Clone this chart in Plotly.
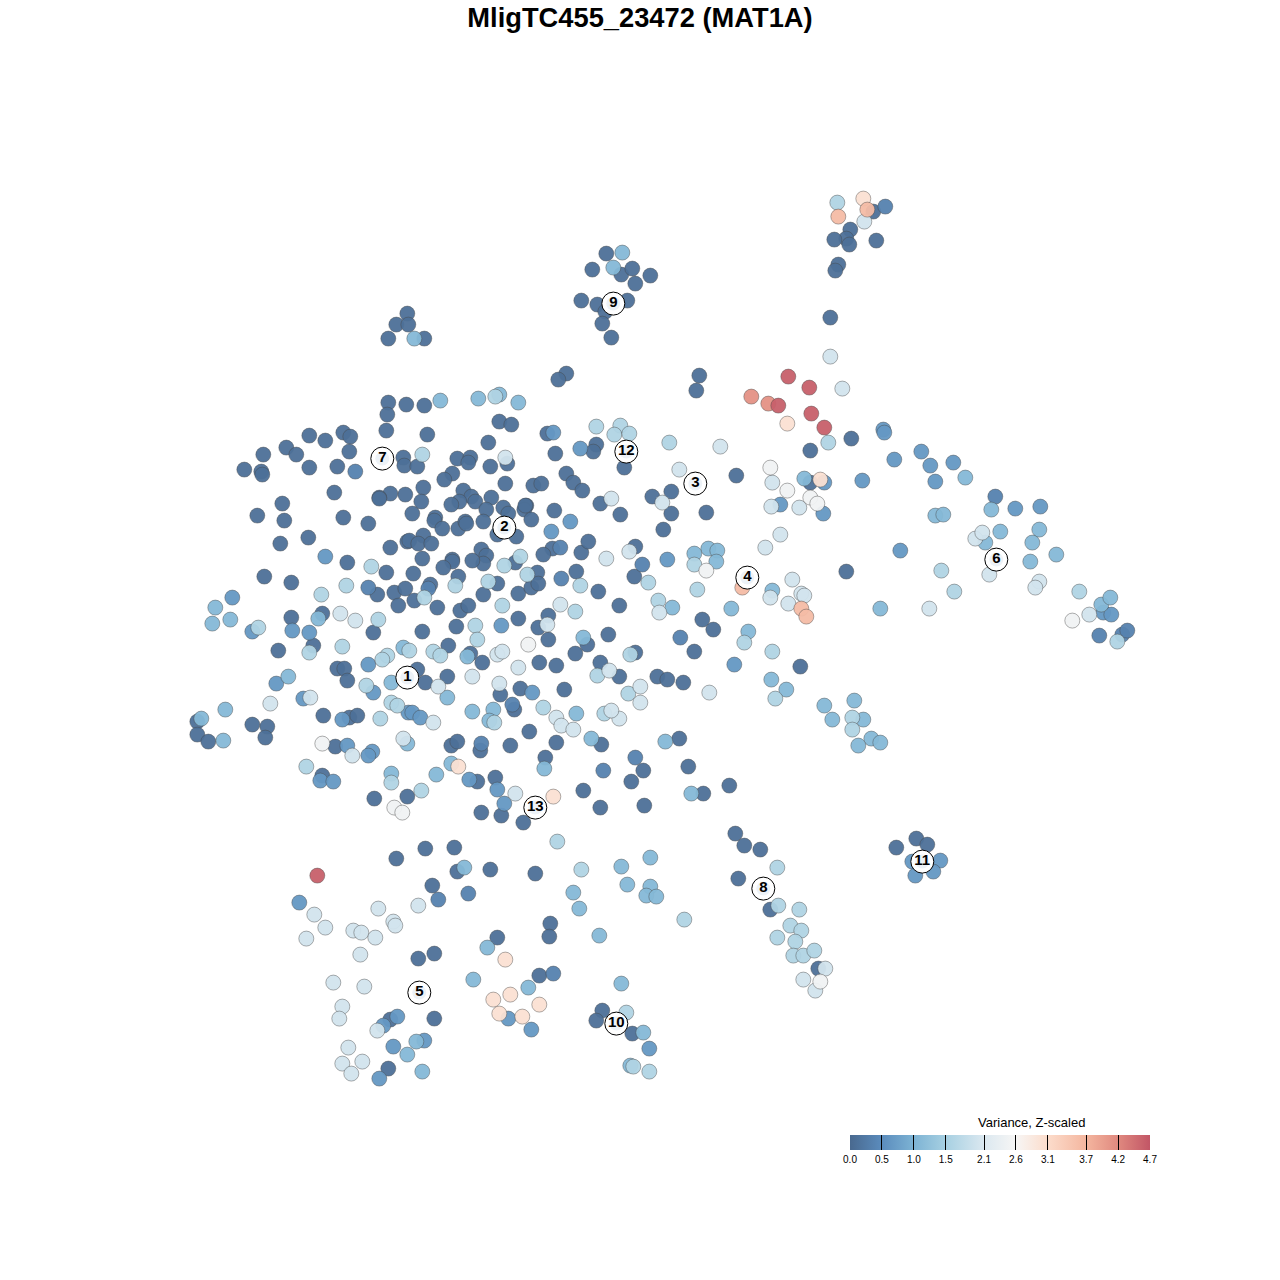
import plotly.graph_objects as go

title_text = "MligTC455_23472 (MAT1A)"
legend_title = "Variance, Z-scaled"
tick_values = [0.0, 0.5, 1.0, 1.5, 2.1, 2.6, 3.1, 3.7, 4.2, 4.7]
tick_labels = ["0.0", "0.5", "1.0", "1.5", "2.1", "2.6", "3.1", "3.7", "4.2", "4.7"]
scale_stops = [
    (0.0, "#49698f"), (0.5, "#5b8cbd"), (1.0, "#7db3d4"), (1.5, "#a7d0e2"),
    (2.1, "#dbe8f0"), (2.6, "#f7f6f5"), (3.1, "#fcdccb"), (3.7, "#f4b69f"),
    (4.2, "#e0897f"), (4.7, "#c25666"),
]
cluster_ids = ["1", "2", "3", "4", "5", "6", "7", "8", "9", "10", "11", "12", "13"]
cluster_x = [407, 504, 695, 747, 419, 996, 382, 763, 613, 616, 922, 626, 535]
cluster_y = [677, 527, 483, 577, 992, 559, 458, 888, 303, 1023, 861, 451, 807]

tier_values = [0.1, 0.35, 0.65, 1.1, 1.6, 2.0, 2.5, 3.0, 3.6, 4.1, 4.6]

tier_0 = [
    (873,211),(850,229),(846,238),(834,239),(849,244),(876,240),(838,264),(835,270),(830,317),
    (606,253),(592,269),(621,274),(632,268),(650,275),(635,283),(581,300),(597,304),(627,300),(605,311),(602,323),(611,337),
    (407,313),(396,324),(408,324),(388,338),(424,338),(566,373),(558,379),(699,375),(696,390),
    (388,402),(406,404),(424,405),(387,414),(386,430),(309,435),(343,432),(350,436),(325,440),(286,447),(296,454),(349,451),(263,454),
    (309,467),(337,466),(244,469),(261,471),(262,474),(403,457),(404,465),(417,466),(427,434),(488,442),(334,492),(390,493),(379,497),(379,498),(405,494),
    (282,503),(257,515),(284,520),(343,517),(368,523),(412,513),(308,537),(280,543),(390,547),(407,541),(347,562),(386,572),(264,576),(291,582),(377,594),(394,592),(405,588),(413,573),
    (457,458),(470,457),(468,462),(490,466),(507,463),(452,473),(444,479),(505,483),(533,485),(541,483),(423,487),(421,501),(463,490),(471,496),(459,501),(451,504),(475,501),(491,497),
    (503,507),(508,513),(486,509),(526,505),(524,509),(483,521),(531,519),(435,517),(434,520),(442,528),(458,528),(465,521),(466,523),(497,534),(516,536),(423,535),(409,540),(418,543),(431,543),
    (422,558),(481,549),(486,555),(483,563),(472,560),(452,559),(452,561),(443,567),(458,576),(430,584),(398,605),(414,600),(437,607),(460,610),(468,605),(497,583),(483,594),(518,593),(531,587),(537,572),(538,583),(515,562),(576,571),
    (552,548),(543,554),(581,552),(588,541),(598,591),(518,618),(548,615),(538,627),(548,639),(619,605),(634,576),(635,546),
    (499,421),(511,424),(547,433),(596,444),(593,451),(555,453),(624,467),(566,473),(573,482),(582,490),(525,505),(554,510),(600,503),(652,496),(671,491),(671,513),(706,512),(620,514),(736,475),(663,529),
    (702,619),(713,629),(694,651),(608,634),(587,644),(575,653),(635,652),(800,666),(657,676),(667,679),(683,682),(846,571),(810,450),(851,438),(810,482),
    (291,617),(322,613),(373,632),(313,645),(278,650),(337,668),(344,668),(347,680),(197,721),(197,734),(208,741),(252,724),(267,726),(265,737),(323,715),(349,717),(357,715),(335,746),(322,775),(374,798),
    (456,626),(422,631),(448,645),(470,653),(482,662),(539,662),(556,665),(600,662),(417,669),(447,676),(619,676),(425,682),(520,688),(500,694),(564,689),(514,709),(529,731),(601,744),(451,745),(457,741),(480,750),(510,745),(556,742),(545,757),
    (477,781),(495,777),(407,796),(481,812),(501,815),(523,822),(583,790),(631,781),(643,770),(600,807),(644,805),(688,766),(679,738),(729,785),(703,793),
    (916,838),(927,844),(896,847),(922,858),(735,833),(744,845),(760,849),(738,878),(770,909),(818,968),
    (396,858),(425,848),(454,847),(457,871),(490,869),(535,873),(432,885),(550,923),(549,936),(497,937),(418,958),(434,953),(539,975),(434,1018),(390,1019),(602,1010),(596,1020),(632,1033),(388,1068),
]
tier_1 = [
    (885,206),(355,471),(368,587),(428,588),(561,578),(560,547),(642,564),(680,637),(995,496),(1099,635),(553,973),(438,899),(468,893),(481,743),(512,704),(1122,634),(1127,630),
    (635,757),(603,770),
]
tier_2 = [
    (325,556),(232,597),(292,630),(309,632),(252,631),(276,683),(368,664),(373,692),(303,698),(342,719),(408,712),(347,745),(372,751),(368,755),(320,780),(333,781),
    (551,531),(570,521),(580,448),(553,432),(501,625),(532,692),(412,712),(420,717),(469,779),(862,480),(824,482),(823,513),(780,504),(734,664),(883,429),(884,432),
    (894,459),(921,451),(930,465),(953,462),(935,481),(1015,508),(1040,506),(900,550),(1103,612),(1111,614),(912,861),(940,860),(915,875),(933,871),
    (299,902),(397,1016),(383,1025),(508,1018),(531,1029),(649,1048),(393,1046),(424,1040),(379,1078),(667,559),(504,803),(497,789),
]
tier_3 = [
    (622,252),(613,267),(414,338),(440,400),(478,398),(499,394),(518,402),(215,607),(212,623),(230,619),(318,618),(403,647),(467,656),(288,676),(391,682),(225,709),(201,718),(223,740),(407,743),(391,773),
    (447,697),(493,709),(472,711),(489,720),(576,713),(591,738),(665,741),(451,763),(436,774),(544,768),(691,793),
    (583,637),(672,607),(731,608),(772,590),(748,631),(771,679),(786,689),(804,478),(708,548),(717,550),(716,561),(694,553),
    (832,719),(854,700),(863,719),(871,738),(880,742),(858,745),(824,705),(965,477),(991,509),(935,515),(943,514),(1000,531),(1039,529),(1032,542),(985,542),(1030,561),(1056,554),(880,608),(1101,604),(1110,597),
    (464,867),(621,866),(650,857),(573,892),(627,884),(650,886),(646,895),(656,896),(579,908),(599,935),(487,947),(473,979),(528,987),(621,983),(643,1032),(416,1041),(407,1054),(422,1071),(630,1065),
]
tier_4 = [
    (422,454),(371,566),(321,594),(346,585),(455,585),(488,581),(504,565),(520,556),(527,574),(580,585),(648,582),(424,597),(502,605),(575,611),(378,619),(495,396),
    (309,652),(342,646),(409,650),(387,655),(382,659),(366,685),(391,702),(397,705),(380,718),(306,766),(391,782),(421,790),
    (475,625),(477,639),(433,651),(440,655),(630,654),(597,675),(628,693),(543,707),(494,722),(604,713),
    (669,442),(596,426),(620,425),(614,434),(629,433),(694,564),(697,589),(658,600),(744,642),(772,651),(828,442),(775,698),(852,717),(852,729),
    (941,570),(954,591),(1079,591),(1117,641),(777,867),(778,905),(799,909),(790,925),(777,937),(801,930),(795,941),(793,955),(803,955),(814,950),
    (557,841),(581,869),(684,919),(626,1012),(633,1066),(649,1071),(837,202),(258,627),
]
tier_5 = [
    (864,221),(830,356),(842,388),(611,498),(679,469),(720,446),(662,502),(629,551),(606,558),(560,604),(547,624),(659,612),(765,547),(780,534),(772,482),(771,506),(799,507),(792,579),(770,597),(801,593),(804,595),(788,603),
    (340,613),(355,620),(270,703),(310,697),(352,755),(403,738),(518,667),(472,676),(438,686),(499,683),(497,654),(502,651),(505,457),(433,722),(556,717),(561,725),(573,729),(619,718),(640,702),(640,686),(609,670),(611,710),(515,793),(709,692),
    (975,538),(982,532),(989,574),(1039,581),(1035,587),(929,608),(1089,614),(825,968),(803,979),(815,990),
    (314,914),(325,927),(306,938),(353,930),(361,932),(375,937),(378,908),(393,921),(395,925),(418,905),(360,954),(333,982),(364,986),(342,1006),(339,1018),(377,1030),(348,1047),(342,1063),(362,1061),(351,1073),
]
tier_6 = [
    (706,570),(770,467),(787,490),(322,743),(1072,620),(528,644),(810,497),(817,503),(820,981),(394,807),(402,812),
]
tier_7 = [
    (787,423),(820,479),(553,796),(458,766),(863,198),(505,959),(510,994),(493,999),(539,1004),(499,1013),(522,1016),
]
tier_8 = [
    (867,209),(742,587),(801,608),(806,616),(838,216),
]
tier_9 = [
    (751,396),(768,403),
]
tier_10 = [
    (778,405),(788,376),(809,387),(811,413),(824,427),(317,875),
]
all_tiers = [tier_0, tier_1, tier_2, tier_3, tier_4, tier_5, tier_6, tier_7, tier_8, tier_9, tier_10]

xs, ys, vs = [], [], []
for tier, value in zip(all_tiers, tier_values):
    for px, py in tier:
        xs.append(px)
        ys.append(py)
        vs.append(value)

colorscale = [[v / 4.7, c] for v, c in scale_stops]

fig = go.Figure()
fig.add_trace(go.Scatter(
    x=xs, y=ys, mode="markers", hoverinfo="skip", showlegend=False,
    marker=dict(
        size=15, color=vs, cmin=0, cmax=4.7, colorscale=colorscale, opacity=0.95,
        line=dict(width=1, color="rgba(70,70,70,0.45)"),
        colorbar=dict(
            orientation="h", lenmode="pixels", len=300, thicknessmode="pixels", thickness=15,
            x=850 / 1280, xanchor="left", xpad=0, ypad=0,
            y=1 - 1179.5 / 1280, yanchor="bottom",
            tickmode="array", tickvals=tick_values, ticktext=tick_labels,
            ticks="inside", ticklen=15, tickwidth=1, tickcolor="black",
            tickfont=dict(size=10, color="black", family="Liberation Sans"),
            outlinewidth=0, borderwidth=0,
        ),
    ),
))
fig.add_trace(go.Scatter(
    x=cluster_x, y=cluster_y, mode="markers", hoverinfo="skip", showlegend=False,
    marker=dict(size=23, color="white", line=dict(width=1, color="black")),
))
fig.add_trace(go.Scatter(
    x=cluster_x, y=cluster_y, mode="markers+text", text=cluster_ids, hoverinfo="skip", showlegend=False,
    textposition="middle center",
    textfont=dict(size=15, color="black", family="Liberation Sans", weight=700),
    marker=dict(size=14, color="#edf2f7", line=dict(width=0)),
))
fig.add_annotation(
    x=1031, y=1122, xref="x", yref="y", text=legend_title, showarrow=False,
    font=dict(size=13, color="black", family="Liberation Sans"),
)
fig.update_layout(
    width=1280, height=1280, paper_bgcolor="white", plot_bgcolor="white",
    margin=dict(l=0, r=0, t=0, b=0, pad=0, autoexpand=False),
    title=dict(text=f"<b>{title_text}</b>", x=0.5, xanchor="center", y=1 - 17 / 1280, yanchor="middle",
               font=dict(size=27.3, color="black", family="Liberation Sans")),
    xaxis=dict(range=[-0.3, 1279.7], visible=False, fixedrange=True),
    yaxis=dict(range=[1279.4, -0.6], visible=False, fixedrange=True),
    font=dict(family="Liberation Sans"),
)
fig.write_html("out.html", config={"displayModeBar": False},
               post_script="document.body.style.margin='0';document.body.style.overflow='hidden';")
